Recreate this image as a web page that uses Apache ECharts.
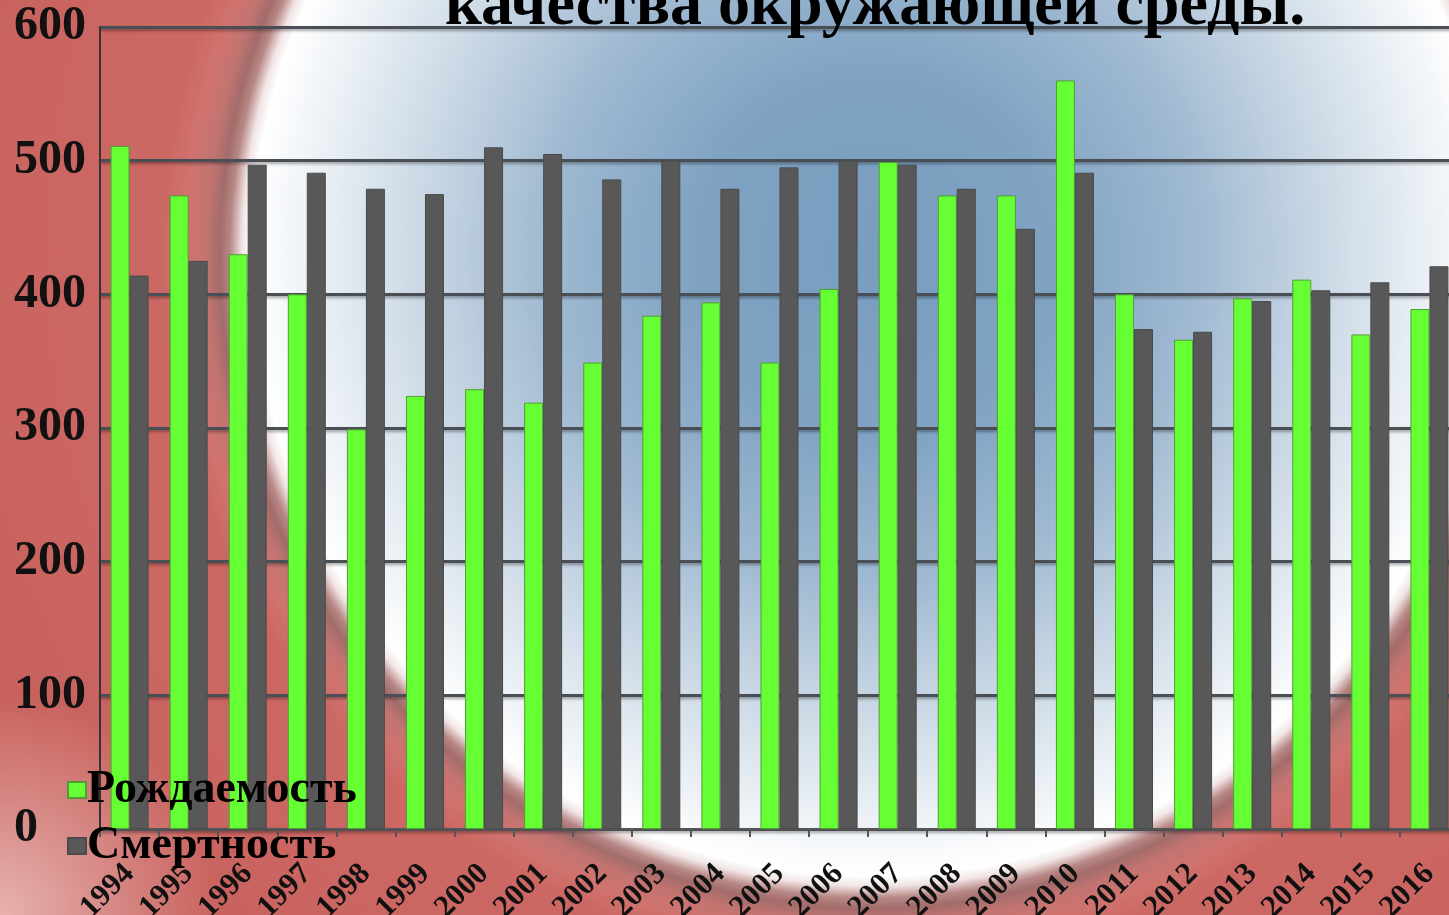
<!DOCTYPE html>
<html>
<head>
<meta charset="utf-8">
<script src="https://cdn.jsdelivr.net/npm/echarts@6/dist/echarts.min.js"></script>
<style>
html,body{margin:0;padding:0;width:1449px;height:915px;overflow:hidden;}
#bg{position:absolute;left:0;top:0;width:1449px;height:915px;
background: radial-gradient(circle 710px at 872px 256px, #799dbf 0px, #80a3c3 180px, #9fb9d1 325px, #c6d5e3 440px, #e2eaf1 530px, #f7f9fb 595px, #ffffff 620px, #f1e5e5 630px, #b88886 642px, #a26c6a 652px, #c27471 666px, #d0736f 685px, #cc6864 710px);}
#bg2{position:absolute;left:0;top:0;width:1449px;height:915px;
background: radial-gradient(circle 1150px at 872px 256px, rgba(0,0,0,0) 64%, rgba(180,64,60,0.3) 100%);}
#bg3{position:absolute;left:0;top:0;width:1449px;height:915px;
background: radial-gradient(circle 220px at 0px 915px, rgba(245,215,212,0.7) 0%, rgba(245,215,212,0) 100%);}
#chart{position:absolute;left:0;top:0;width:1449px;height:915px;}
</style>
</head>
<body>
<div id="bg"></div>
<div id="bg2"></div>
<div id="bg3"></div>
<div id="chart"></div>
<script>
var years = ['1994','1995','1996','1997','1998','1999','2000','2001','2002','2003','2004','2005','2006','2007','2008','2009','2010','2011','2012','2013','2014','2015','2016'];
var birthRate = [511,474,430,400,299,324,329,319,349,384,394,349,404,499,474,474,560,400,366,397,411,370,389];
var deathRate = [414,425,497,491,479,475,510,505,486,500,479,495,500,497,479,449,491,374,372,395,403,409,421];
var yTicks = [0,100,200,300,400,500,600];
var titleText = 'качества окружающей среды.';
var legendNames = ['Рождаемость','Смертность'];

var serif = "'Liberation Serif','Times New Roman',serif";
var chart = echarts.init(document.getElementById('chart'));
chart.setOption({
  backgroundColor: 'transparent',
  animation: false,
  graphic: [{
    type: 'text', left: 445, top: -25, z: 10,
    style: { text: titleText, font: "bold 64px " + serif, fill: '#000' }
  }],
  legend: {
    orient: 'vertical', left: 62, top: 762, itemWidth: 18, itemHeight: 16, itemGap: 10,
    icon: 'rect',
    textStyle: { fontFamily: serif, fontSize: 46, fontWeight: 'bold', color: '#000', padding: [0,0,0,-4] },
    data: legendNames
  },
  grid: { left: 100, top: 27, width: 1359, bottom: 86, containLabel: false, outerBoundsMode: 'none' },
  xAxis: {
    type: 'category', data: years,
    axisLine: { lineStyle: { color: '#555', width: 2 } },
    axisTick: { show: true, length: 8, lineStyle: { color: '#555', width: 2 } },
    axisLabel: { rotate: 45, fontFamily: serif, fontSize: 31, fontWeight: 'bold', color: '#111', margin: 40, interval: 0 }
  },
  yAxis: {
    type: 'value', min: 0, max: 600, interval: 100,
    axisLine: { show: true, lineStyle: { color: '#333', width: 2 } },
    axisTick: { show: false },
    splitLine: { lineStyle: { color: '#4a4f55', width: 3, shadowColor: 'rgba(0,0,0,0.35)', shadowBlur: 3, shadowOffsetY: 2 } },
    axisLabel: { fontFamily: serif, fontSize: 48, fontWeight: 'bold', color: '#111', align: 'left', margin: 86,
      formatter: function(v){ return yTicks.indexOf(v) >= 0 ? String(v) : ''; } }
  },
  series: [
    { name: legendNames[0], type: 'bar', data: birthRate, barWidth: 19, barGap: '0%',
      itemStyle: { color: '#66ff33', borderColor: '#4f9e33', borderWidth: 1 } },
    { name: legendNames[1], type: 'bar', data: deathRate, barWidth: 19,
      itemStyle: { color: '#585858', borderColor: '#4a4a4a', borderWidth: 1 } }
  ]
});
</script>
</body>
</html>
